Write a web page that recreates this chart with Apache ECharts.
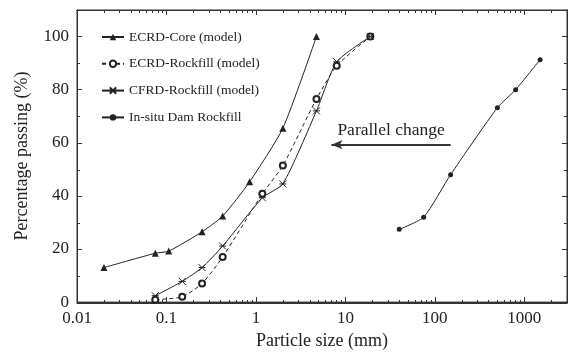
<!DOCTYPE html>
<html><head><meta charset="utf-8">
<script src="https://cdn.jsdelivr.net/npm/echarts@6/dist/echarts.min.js"></script>
<style>html,body{margin:0;padding:0;background:#fff}#c{width:571px;height:355px}</style>
</head><body><div id="c"></div>
<script>
const coreX = [0.02, 0.075, 0.106, 0.25, 0.425, 0.85, 2, 4.75];
const coreY = [13, 18.4, 19.2, 26.5, 32.4, 45.3, 65.5, 100];
const ecrdRockX = [0.075, 0.15, 0.25, 0.425, 1.18, 2, 4.75, 8, 19];
const ecrdRockY = [0.9, 2, 7, 17, 40.8, 51.4, 76.5, 89, 100];
const cfrdRockX = [0.075, 0.15, 0.25, 0.425, 1.18, 2, 4.75, 8, 19];
const cfrdRockY = [2.4, 7.8, 13, 21.1, 39.3, 44.5, 72, 90.5, 100];
const insituX = [40, 75, 150, 500, 800, 1500];
const insituY = [27.4, 32, 48, 73.2, 80, 91.3];
const seriesNames = ['ECRD-Core (model)', 'ECRD-Rockfill (model)', 'CFRD-Rockfill (model)', 'In-situ Dam Rockfill'];
const xMinorTicks = [0.02,0.03,0.04,0.05,0.06,0.07,0.08,0.09,0.2,0.3,0.4,0.5,0.6,0.7,0.8,0.9,2,3,4,5,6,7,8,9,20,30,40,50,60,70,80,90,200,300,400,500,600,700,800,900,2000];
const yMinorTicks = [10, 30, 50, 70, 90];
const arrowFrom = [7, 59.3];
const arrowTo = [150, 59.3];
const arrowText = 'Parallel change';

const FONT = 'Liberation Serif';
const INK = '#222';
const pairs = (xs, ys) => xs.map((x, i) => [x, ys[i]]);

// major axes (grid 0): default ticks at powers of ten / every 20
function xMain(pos, labels, name) {
  const a = {
    type: 'log', gridIndex: 0, position: pos, min: 0.01, max: 3000,
    axisLine: { show: true, onZero: false, lineStyle: { color: '#333', width: 1 } },
    axisTick: { show: true, inside: true, length: 5, lineStyle: { color: '#333', width: 1 } },
    axisLabel: labels ? { show: true, showMaxLabel: false, margin: 8, fontFamily: FONT, fontSize: 17, color: INK,
      formatter: v => String(+Number(v).toPrecision(6)) } : { show: false },
    splitLine: { show: false }
  };
  if (name) {
    a.name = name; a.nameLocation = 'middle'; a.nameGap = 27;
    a.nameTextStyle = { fontFamily: FONT, fontSize: 18, color: INK };
  }
  return a;
}
function yMain(pos, labels, name) {
  const a = {
    type: 'value', gridIndex: 0, position: pos, min: 0, max: 110, interval: 20,
    axisLine: { show: true, onZero: false, lineStyle: { color: '#333', width: 1 } },
    axisTick: { show: true, inside: true, length: 5, lineStyle: { color: '#333', width: 1 } },
    axisLabel: labels ? { show: true, showMaxLabel: false, margin: 8, fontFamily: FONT, fontSize: 17, color: INK } : { show: false },
    splitLine: { show: false }
  };
  if (name) {
    a.name = name; a.nameLocation = 'middle'; a.nameGap = 46;
    a.nameTextStyle = { fontFamily: FONT, fontSize: 18, color: INK };
  }
  return a;
}
// minor tick axes (grid 1)
const xMinor = pos => ({ type: 'log', gridIndex: 1, min: 0.01, max: 3000, position: pos,
  axisLine: { show: true, onZero: false, lineStyle: { color: '#333' } },
  axisTick: { show: true, inside: true, length: 3, customValues: xMinorTicks, lineStyle: { color: '#333', width: 1 } },
  axisLabel: { show: false }, splitLine: { show: false } });
const yMinor = pos => ({ type: 'value', gridIndex: 1, min: 0, max: 110, position: pos,
  axisLine: { show: true, onZero: false, lineStyle: { color: '#333' } },
  axisTick: { show: true, inside: true, length: 3, customValues: yMinorTicks, lineStyle: { color: '#333', width: 1 } },
  axisLabel: { show: false }, splitLine: { show: false } });

const gridBox = { left: 77, right: 4, top: 10, bottom: 52 };
const chart = echarts.init(document.getElementById('c'));
const xSym = 'path://M0,0L10,10M10,0L0,10M0,5L10,5';

chart.setOption({
  animation: false,
  grid: [Object.assign({ show: true, borderColor: '#333', borderWidth: 1, backgroundColor: 'transparent' }, gridBox),
         Object.assign({}, gridBox)],
  xAxis: [xMain('bottom', true, 'Particle size (mm)'), xMain('top', false), xMinor('bottom'), xMinor('top')],
  yAxis: [yMain('left', true, 'Percentage passing (%)'), yMain('right', false), yMinor('left'), yMinor('right')],
  legend: {
    orient: 'vertical', left: 96, top: 25, itemWidth: 22, itemHeight: 8, itemGap: 12.8,
    textStyle: { fontFamily: FONT, fontSize: 13.5, color: INK },
    data: seriesNames
  },
  series: [
    { name: seriesNames[0], type: 'line', xAxisIndex: 0, yAxisIndex: 0, data: pairs(coreX, coreY), smooth: 0.2,
      symbol: 'triangle', symbolSize: 7, itemStyle: { color: INK }, lineStyle: { color: INK, width: 1 } },
    { name: seriesNames[1], type: 'line', xAxisIndex: 0, yAxisIndex: 0, data: pairs(ecrdRockX, ecrdRockY), smooth: 0.2,
      symbol: 'emptyCircle', symbolSize: 6, itemStyle: { color: INK, borderWidth: 1 }, lineStyle: { color: INK, width: 1, type: [4, 3] } },
    { name: seriesNames[2], type: 'line', xAxisIndex: 0, yAxisIndex: 0, data: pairs(cfrdRockX, cfrdRockY), smooth: 0.2,
      symbol: xSym, symbolSize: 7, itemStyle: { color: 'none', borderColor: INK, borderWidth: 1 }, lineStyle: { color: INK, width: 1 } },
    { name: seriesNames[3], type: 'line', xAxisIndex: 0, yAxisIndex: 0, data: pairs(insituX, insituY), smooth: 0.2,
      symbol: 'circle', symbolSize: 5, itemStyle: { color: INK }, lineStyle: { color: INK, width: 1 },
      markLine: {
        silent: true, symbol: ['arrow', 'none'], symbolSize: [7, 11],
        lineStyle: { color: '#333', width: 2, type: 'solid' },
        label: { show: true, position: 'insideMiddleTop', distance: 5, formatter: arrowText,
          fontFamily: FONT, fontSize: 17.5, color: INK },
        data: [[{ coord: arrowFrom }, { coord: arrowTo }]]
      } }
  ]
});
</script></body></html>
